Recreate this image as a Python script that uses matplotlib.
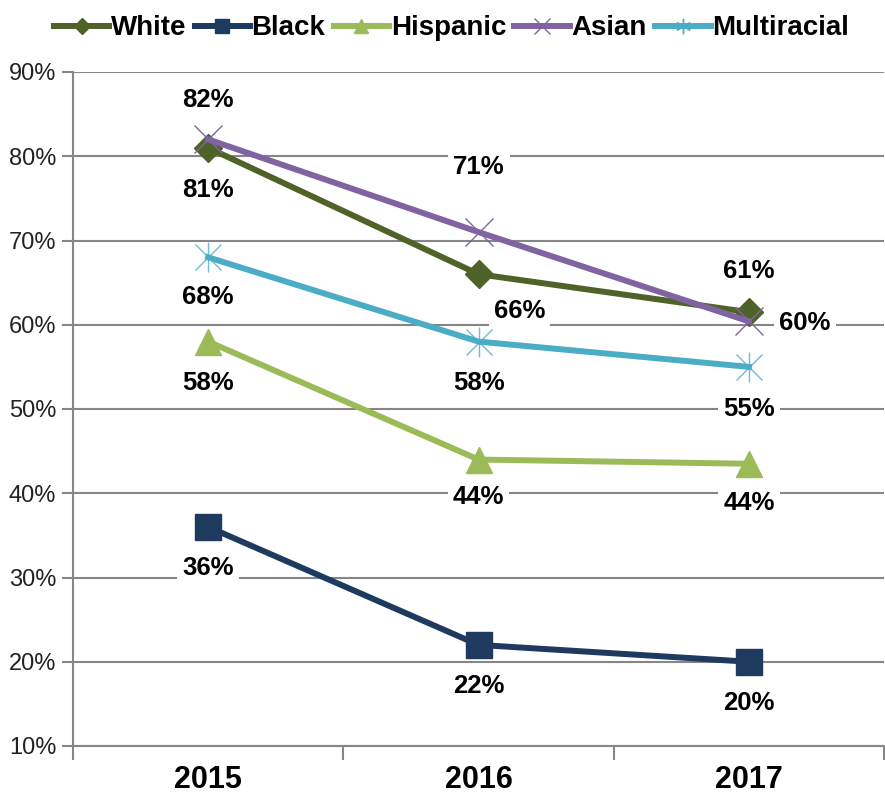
import matplotlib
matplotlib.use("Agg")
import matplotlib.pyplot as plt
from matplotlib.lines import Line2D

plt.rcParams['font.family'] = ['Liberation Sans', 'DejaVu Sans']

years = ["2015", "2016", "2017"]
series_names = ["White", "Black", "Hispanic", "Asian", "Multiracial"]
white = [81, 66, 61.5]
black = [36, 22, 20]
hispanic = [58, 44, 43.5]
asian = [82, 71, 60.4]
multiracial = [68, 58, 55]
white_labels = ["81%", "66%", "61%"]
black_labels = ["36%", "22%", "20%"]
hispanic_labels = ["58%", "44%", "44%"]
asian_labels = ["82%", "71%", "60%"]
multiracial_labels = ["68%", "58%", "55%"]

# label offsets in pixels (dx, dy) relative to each point
white_off = [(0, -42), (41, -37), (0, 41)]
black_off = [(0, -41), (0, -41), (0, -41)]
hispanic_off = [(0, -41), (0, -37), (0, -39)]
asian_off = [(0, 39), (0, 65), (56, -2)]
multi_off = [(0, -40), (0, -41), (0, -42)]

styles = [
    (white, white_labels, white_off, "#4F6228", "D", 14, 1.0),
    (black, black_labels, black_off, "#1F3A5F", "s", 19, 1.0),
    (hispanic, hispanic_labels, hispanic_off, "#9BBB59", "^", 19, 1.0),
    (asian, asian_labels, asian_off, "#8064A2", "x", 20, 1.0),
    (multiracial, multiracial_labels, multi_off, "#4BACC6", "*", 22, 1.0),
]

fig = plt.figure(figsize=(8.85, 8), dpi=100)
ax = fig.add_axes([0.0825, 0.0675, 0.9165, 0.8425])

x = list(range(len(years)))
handles = []
for (vals, labs, offs, col, mk, ms, mew), name in zip(styles, series_names):
    if mk == "*":
        ax.plot(x, vals, '-', color=col, lw=4.3, zorder=3)
        ax.plot(x, vals, ls='none', marker='x', ms=ms * 0.85, mew=mew,
                color=col, alpha=0.8, zorder=4)
        ax.plot(x, vals, ls='none', marker='|', ms=ms, mew=mew,
                color=col, alpha=0.8, zorder=4)
        lh = Line2D([], [], color=col, lw=4.3, marker=(6, 2, 0), ms=11, mew=1.0)
    else:
        ax.plot(x, vals, '-', color=col, lw=4.3, marker=mk, ms=ms,
                mew=mew, zorder=3)
        lh = Line2D([], [], color=col, lw=4.3, marker=mk, ms=ms * 0.55, mew=mew)
    handles.append(lh)
    for xi, v, lab, (dx, dy) in zip(x, vals, labs, offs):
        ax.annotate(lab, (xi, v), xytext=(dx, dy), textcoords='offset pixels',
                    ha='center', va='center', fontsize=18.5, fontweight='bold',
                    color='black', zorder=5,
                    bbox=dict(boxstyle='square,pad=0.2', fc='white', ec='none'))

ax.set_xlim(-0.5, 2.5)
ax.set_ylim(10, 90)
ax.set_yticks(range(10, 91, 10))
ax.set_yticklabels([f"{v}%" for v in range(10, 91, 10)], fontsize=17,
                   color='#222222')
ax.set_xticks(x)
ax.set_xticklabels(years, fontsize=22, fontweight='bold')
ax.set_xticks([-0.5, 0.5, 1.5, 2.5], minor=True)
ax.tick_params(axis='x', which='major', length=0, pad=14)
ax.tick_params(axis='x', which='minor', length=10, width=1.5, color='#868686')
ax.tick_params(axis='y', length=8, width=1.5, color='#868686', pad=4)
ax.yaxis.grid(True, color='#868686', lw=1.5)
ax.set_axisbelow(True)
for s in ['top', 'right']:
    ax.spines[s].set_visible(False)
for s in ['left', 'bottom']:
    ax.spines[s].set_color('#868686')
    ax.spines[s].set_linewidth(1.5)

fig.legend(handles, series_names, loc='upper center', bbox_to_anchor=(0.51, 1.012),
           ncol=5, frameon=False, numpoints=1, handlelength=2.0,
           handletextpad=0.05, columnspacing=0.3,
           prop={'size': 20, 'weight': 'bold'})

fig.savefig("out.png", dpi=100)
